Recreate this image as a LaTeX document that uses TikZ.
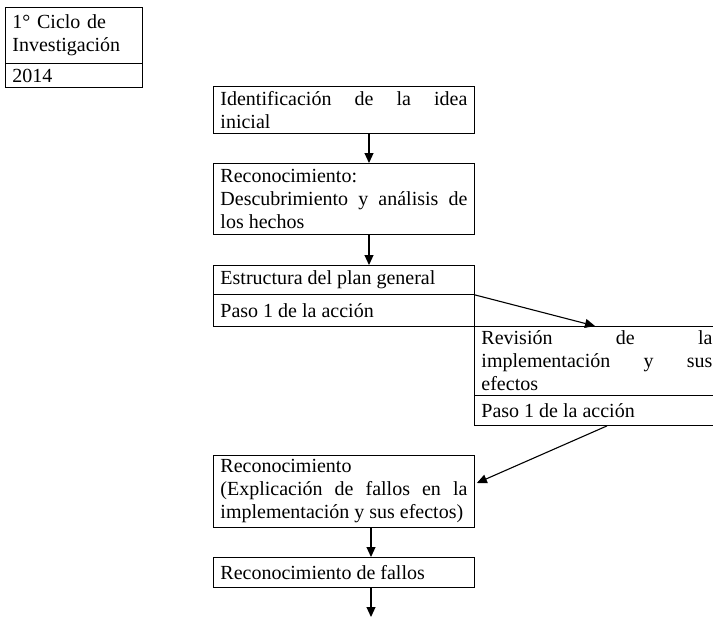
\documentclass[tikz,border=0pt]{standalone}
\usepackage{fontspec}
\setmainfont{Liberation Serif}
\usetikzlibrary{arrows.meta,calc}
\tikzset{
  box/.style={draw=black, line width=0.9pt, rectangle, anchor=north west,
    inner xsep=7pt, inner ysep=0pt, text width=247pt, align=justify,
    font=\fontsize{20pt}{23pt}\selectfont},
  arr/.style={draw=black, line width=1.1pt, -{Triangle[length=10pt,width=9pt]}}
}
\begin{document}
\begin{tikzpicture}[x=1pt,y=1pt]
\useasboundingbox (0,0) rectangle (713,-618);
\clip (0,0) rectangle (713,-618);
% header
\node[box, text width=123pt, align=left, minimum height=56pt] (hdrA) at (5,-7) {1° Ciclo de\\Investigación};
\node[box, text width=123pt, align=left, minimum height=24pt] (hdrB) at (5,-63) {2014};
% main column
\node[box, minimum height=47pt] (idea) at (213,-86) {Identificación de la idea\linebreak inicial};
\node[box, minimum height=71pt] (recon) at (213,-163) {Reconocimiento:\newline Descubrimiento y análisis de\linebreak los hechos};
\node[box, minimum height=29pt] (plan) at (213,-265) {Estructura del plan general};
\node[box, minimum height=32pt] (paso1) at (213,-294) {Paso 1 de la acción};
\node[box, text width=231pt, minimum height=69pt] (rev) at (474,-326) {Revisión de la\linebreak implementación y sus\linebreak efectos};
\node[box, text width=231pt, minimum height=30pt] (paso2) at (474,-395) {Paso 1 de la acción};
\node[box, minimum height=72pt] (expl) at (213,-455) {Reconocimiento\newline (Explicación de fallos en la\linebreak implementación y sus efectos)};
\node[box, minimum height=30pt] (fallos) at (213,-557) {Reconocimiento de fallos};
\coordinate (ax) at (369,0);
\coordinate (endpt) at (371,-617);
% connectors
\draw[arr] (idea.south -| ax) -- (recon.north -| ax);
\draw[arr] (recon.south -| ax) -- (plan.north -| ax);
\draw[arr] (plan.south east) -- ($(rev.north west)+(121,0)$);
\draw[arr] ($(paso2.south west)+(133,0)$) -- ($(expl.north east)+(2,-28)$);
\draw[arr] ($(expl.south west)+(158,0)$) -- ($(fallos.north west)+(158,0)$);
\draw[arr] ($(fallos.south west)+(158,0)$) -- (endpt);
\end{tikzpicture}
\end{document}
